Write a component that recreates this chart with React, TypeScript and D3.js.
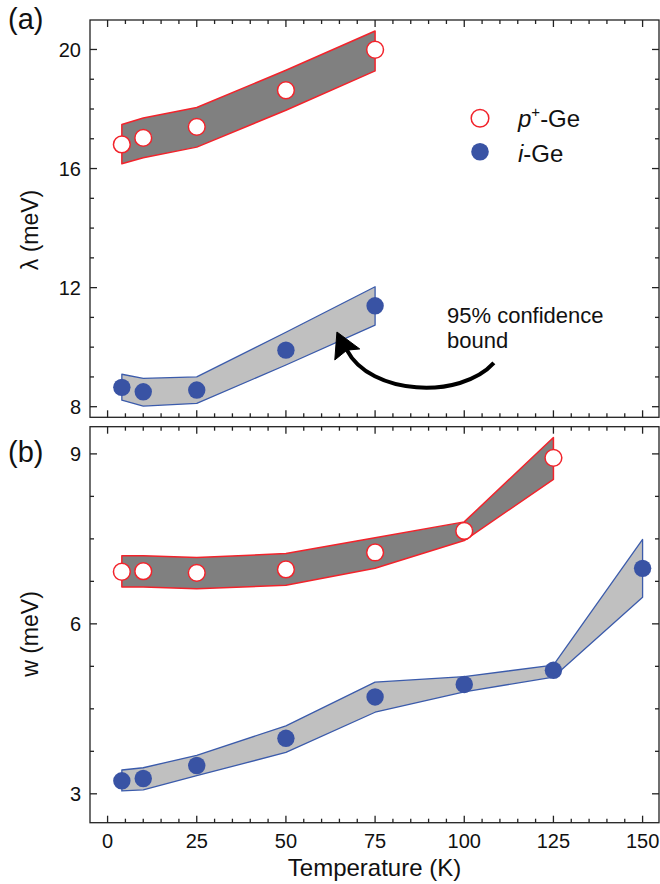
import React from "react";
import * as d3 from "d3";

// ---------- data ----------
// Panel (a): lambda (meV) vs temperature
const lambdaTempsP = [4, 10, 25, 50, 75];
const lambdaP = [16.81, 17.03, 17.4, 18.63, 19.99];
const lambdaPUpper = [17.48, 17.7, 18.05, 19.3, 20.62];
const lambdaPLower = [16.16, 16.36, 16.72, 17.96, 19.28];

const lambdaTempsI = [4, 10, 25, 50, 75];
const lambdaI = [8.65, 8.5, 8.56, 9.9, 11.39];
const lambdaIUpper = [9.09, 8.95, 9.0, 10.5, 12.03];
const lambdaILower = [8.22, 8.02, 8.11, 9.4, 10.74];

// Panel (b): w (meV) vs temperature
const wTempsP = [4, 10, 25, 50, 75, 100, 125];
const wP = [6.92, 6.93, 6.9, 6.96, 7.26, 7.64, 8.93];
const wPUpper = [7.2, 7.2, 7.17, 7.24, 7.52, 7.8, 9.29];
const wPLower = [6.65, 6.65, 6.62, 6.68, 6.98, 7.47, 8.55];

const wTempsI = [4, 10, 25, 50, 75, 100, 125, 150];
const wI = [3.23, 3.27, 3.5, 3.98, 4.71, 4.93, 5.18, 6.98];
const wIUpper = [3.42, 3.46, 3.68, 4.2, 4.97, 5.07, 5.27, 7.49];
const wILower = [3.05, 3.07, 3.32, 3.73, 4.44, 4.8, 5.06, 6.47];

// ticks
const xMajorTicks = [0, 25, 50, 75, 100, 125, 150];
const xMinorTicks = d3.range(0, 151, 5).filter((v) => v % 25 !== 0);
const yTopMajorTicks = [8, 12, 16, 20];
const yTopMinorTicks = d3.range(8, 21, 1).filter((v) => v % 4 !== 0);
const yBotMajorTicks = [3, 6, 9];
const yBotMinorTicks = [3.75, 4.5, 5.25, 6.75, 7.5, 8.25];

const legendLabels = ["p", "i"];

// annotation arrow anchor points (data space of panel a: [T, lambda])
const arrowStart: [number, number] = [108.3, 9.47];
const arrowCp1: [number, number] = [98.8, 8.22];
const arrowCp2: [number, number] = [73.6, 8.39];
const arrowEnd: [number, number] = [67.1, 9.9];
const arrowTip: [number, number] = [64.3, 10.51];
const arrowWingA: [number, number] = [63.7, 9.57];
const arrowWingB: [number, number] = [70.7, 9.94];

// ---------- styles ----------
const FONT = "'Liberation Sans', Arial, Helvetica, sans-serif";
const RED = "#f2232b";
const BLUE = "#3953a4";
const BLUE_LINE = "#3b5bab";
const DARK_FILL = "#808080";
const LIGHT_FILL = "#c0c0c0";
const AXIS = "#222";

const W = 660;
const H = 884;
const L = 90;
const R = 659;
const topPanel = { top: 20, bottom: 417.3 };
const botPanel = { top: 426.7, bottom: 822.7 };

const x = d3.scaleLinear().domain([-4.93, 154.6]).range([L, R]);
const yTop = d3.scaleLinear().domain([7.644, 20.99]).range([topPanel.bottom, topPanel.top]);
const yBot = d3.scaleLinear().domain([2.49, 9.48]).range([botPanel.bottom, botPanel.top]);

type Scale = d3.ScaleLinear<number, number>;

function bandPath(ts: number[], lo: number[], hi: number[], y: Scale) {
  const rows = ts.map((t, i) => ({ t, lo: lo[i], hi: hi[i] }));
  const area = d3
    .area<{ t: number; lo: number; hi: number }>()
    .x((d) => x(d.t))
    .y0((d) => y(d.lo))
    .y1((d) => y(d.hi));
  return area(rows) || "";
}

function Frame({ y, top, bottom, major, minor, showX }: {
  y: Scale; top: number; bottom: number; major: number[]; minor: number[]; showX: boolean;
}) {
  const maj = 7;
  const mnr = 4;
  return (
    <g stroke={AXIS} strokeWidth={1.3} fill="none">
      <rect x={L} y={top} width={R - L} height={bottom - top} />
      {xMajorTicks.map((t) => (
        <g key={"xM" + t}>
          <line x1={x(t)} x2={x(t)} y1={bottom} y2={bottom - maj} />
          <line x1={x(t)} x2={x(t)} y1={top} y2={top + maj} />
        </g>
      ))}
      {xMinorTicks.map((t) => (
        <g key={"xm" + t}>
          <line x1={x(t)} x2={x(t)} y1={bottom} y2={bottom - mnr} />
          <line x1={x(t)} x2={x(t)} y1={top} y2={top + mnr} />
        </g>
      ))}
      {major.map((v) => (
        <g key={"yM" + v}>
          <line x1={L} x2={L + maj} y1={y(v)} y2={y(v)} />
          <line x1={R} x2={R - maj} y1={y(v)} y2={y(v)} />
        </g>
      ))}
      {minor.map((v) => (
        <g key={"ym" + v}>
          <line x1={L} x2={L + mnr} y1={y(v)} y2={y(v)} />
          <line x1={R} x2={R - mnr} y1={y(v)} y2={y(v)} />
        </g>
      ))}
      <g stroke="none" fill="#111" fontFamily={FONT} fontSize={20}>
        {major.map((v) => (
          <text key={"yl" + v} x={L - 9} y={y(v)} dy="0.36em" textAnchor="end">
            {v}
          </text>
        ))}
        {showX &&
          xMajorTicks.map((t) => (
            <text key={"xl" + t} x={x(t)} y={848} textAnchor="middle">
              {t}
            </text>
          ))}
      </g>
    </g>
  );
}

function Points({ ts, vs, y, open }: { ts: number[]; vs: number[]; y: Scale; open: boolean }) {
  return (
    <g>
      {ts.map((t, i) =>
        open ? (
          <circle key={i} cx={x(t)} cy={y(vs[i])} r={8.4} fill="#fff" stroke={RED} strokeWidth={1.5} />
        ) : (
          <circle key={i} cx={x(t)} cy={y(vs[i])} r={8.7} fill={BLUE} />
        )
      )}
    </g>
  );
}

export default function App() {
  const p = (pt: [number, number]) => [x(pt[0]), yTop(pt[1])];
  const s = p(arrowStart), c1 = p(arrowCp1), c2 = p(arrowCp2), e = p(arrowEnd);
  const tip = p(arrowTip), wa = p(arrowWingA), wb = p(arrowWingB);
  const arrowD = `M${s[0]},${s[1]} C${c1[0]},${c1[1]} ${c2[0]},${c2[1]} ${e[0]},${e[1]}`;
  const headD = `M${tip[0]},${tip[1]} L${wa[0]},${wa[1]} L${e[0]},${e[1]} L${wb[0]},${wb[1]} Z`;

  return (
    <div style={{ position: "absolute", left: 0, top: 0 }}>
      <svg width={W} height={H} viewBox={`0 0 ${W} ${H}`} style={{ display: "block", background: "#fff" }}>
        {/* panel (a) */}
        <path d={bandPath(lambdaTempsP, lambdaPLower, lambdaPUpper, yTop)} fill={DARK_FILL} stroke={RED} strokeWidth={1.5} strokeLinejoin="round" />
        <path d={bandPath(lambdaTempsI, lambdaILower, lambdaIUpper, yTop)} fill={LIGHT_FILL} stroke={BLUE_LINE} strokeWidth={1.3} strokeLinejoin="round" />
        <Points ts={lambdaTempsP} vs={lambdaP} y={yTop} open={true} />
        <Points ts={lambdaTempsI} vs={lambdaI} y={yTop} open={false} />
        <Frame y={yTop} top={topPanel.top} bottom={topPanel.bottom} major={yTopMajorTicks} minor={yTopMinorTicks} showX={false} />

        {/* legend */}
        <circle cx={480} cy={118.3} r={8.8} fill="#fff" stroke={RED} strokeWidth={1.5} />
        <circle cx={480} cy={151.7} r={8.8} fill={BLUE} />
        <text x={518} y={126.5} fontFamily={FONT} fontSize={24} fill="#111">
          <tspan fontStyle="italic">{legendLabels[0]}</tspan>
          <tspan dy={-10} fontSize={15}>+</tspan>
          <tspan dy={10}>-Ge</tspan>
        </text>
        <text x={518} y={161.5} fontFamily={FONT} fontSize={24} fill="#111">
          <tspan fontStyle="italic">{legendLabels[1]}</tspan>
          <tspan>-Ge</tspan>
        </text>

        {/* annotation */}
        <text fontFamily={FONT} fontSize={22} fill="#111">
          <tspan x={447} y={323}>95% confidence</tspan>
          <tspan x={447} y={348}>bound</tspan>
        </text>
        <path d={arrowD} fill="none" stroke="#000" strokeWidth={4} />
        <path d={headD} fill="#000" stroke="#000" strokeWidth={1} strokeLinejoin="round" />

        {/* panel (b) */}
        <path d={bandPath(wTempsP, wPLower, wPUpper, yBot)} fill={DARK_FILL} stroke={RED} strokeWidth={1.5} strokeLinejoin="round" />
        <path d={bandPath(wTempsI, wILower, wIUpper, yBot)} fill={LIGHT_FILL} stroke={BLUE_LINE} strokeWidth={1.3} strokeLinejoin="round" />
        <Points ts={wTempsP} vs={wP} y={yBot} open={true} />
        <Points ts={wTempsI} vs={wI} y={yBot} open={false} />
        <Frame y={yBot} top={botPanel.top} bottom={botPanel.bottom} major={yBotMajorTicks} minor={yBotMinorTicks} showX={true} />

        {/* labels */}
        <text x={8} y={29} fontFamily={FONT} fontSize={29} fill="#111">(a)</text>
        <text x={8} y={462} fontFamily={FONT} fontSize={29} fill="#111">(b)</text>
        <text transform="translate(38,230) rotate(-90)" textAnchor="middle" fontFamily={FONT} fontSize={23} fill="#111">
          λ (meV)
        </text>
        <text transform="translate(38,634) rotate(-90)" textAnchor="middle" fontFamily={FONT} fontSize={23} fill="#111">
          w (meV)
        </text>
        <text x={(L + R) / 2} y={876} textAnchor="middle" fontFamily={FONT} fontSize={24} fill="#111">
          Temperature (K)
        </text>
      </svg>
    </div>
  );
}
